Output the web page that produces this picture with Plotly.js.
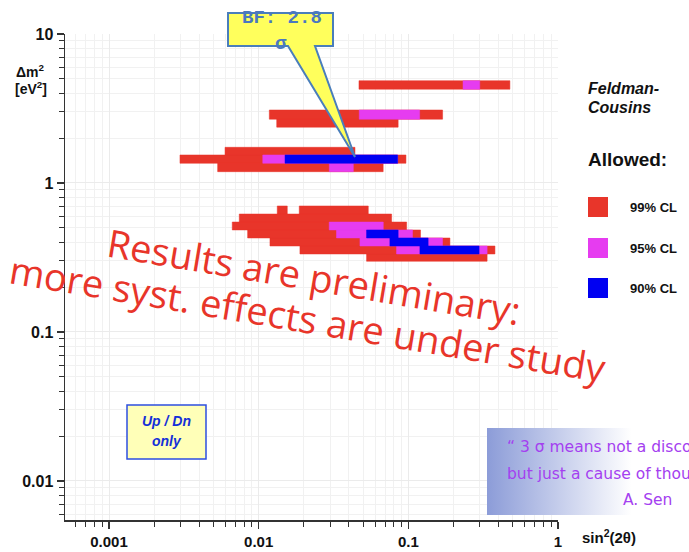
<!DOCTYPE html>
<html><head><meta charset="utf-8">
<script src="https://cdn.plot.ly/plotly-3.0.1.min.js"></script>
<style>html,body{margin:0;padding:0;background:#fff}</style>
</head><body><div id="chart" style="width:689px;height:552px"></div>
<script>
// Axis ticks
const xTickVals = [0.001, 0.01, 0.1, 1];
const xTickText = ['0.001', '0.01', '0.1', '1'];
const yTickVals = [0.01, 0.1, 1, 10];
const yTickText = ['0.01', '0.1', '1', '10'];

// Allowed regions, each row: [sin2(2θ) min, sin2(2θ) max, Δm² min, Δm² max]
const cl99 = [
  [0.0468, 0.477, 4.26, 4.86],
  [0.01178, 0.1694, 2.68, 3.09],
  [0.0132, 0.0855, 2.37, 2.68],
  [0.00596, 0.0440, 1.542, 1.736],
  [0.00298, 0.0964, 1.356, 1.542],
  [0.00532, 0.0679, 1.191, 1.356],
  [0.01331, 0.01553, 0.619, 0.701],
  [0.01867, 0.0540, 0.619, 0.701],
  [0.00742, 0.0773, 0.547, 0.619],
  [0.00666, 0.0974, 0.484, 0.547],
  [0.00844, 0.1206, 0.4275, 0.484],
  [0.0119, 0.1896, 0.3777, 0.4275],
  [0.01887, 0.379, 0.3338, 0.3777],
  [0.0526, 0.336, 0.2982, 0.3338]
];
const cl95 = [
  [0.232, 0.30, 4.26, 4.86],
  [0.047, 0.119, 2.68, 3.09],
  [0.01065, 0.0848, 1.356, 1.542],
  [0.02965, 0.0429, 1.191, 1.356],
  [0.0296, 0.0680, 0.484, 0.547],
  [0.0331, 0.1067, 0.4275, 0.484],
  [0.0475, 0.1693, 0.3777, 0.4275],
  [0.0834, 0.336, 0.3338, 0.3777]
];
const cl90 = [
  [0.0150, 0.0848, 1.356, 1.542],
  [0.0526, 0.0855, 0.4275, 0.484],
  [0.0753, 0.1356, 0.3777, 0.4275],
  [0.1195, 0.297, 0.3338, 0.3777]
];
const clNames = ['99% CL', '95% CL', '90% CL'];
const clColors = ['#E8352A', '#E63CF0', '#0000F2'];

function rects(rows) {
  const x = [], y = [];
  rows.forEach(r => {
    x.push(r[0], r[1], r[1], r[0], r[0], null);
    y.push(r[2], r[2], r[3], r[3], r[2], null);
  });
  return {x, y};
}

const traces = [cl99, cl95, cl90].map((rows, i) => {
  const p = rects(rows);
  return {
    type: 'scatter', mode: 'lines', x: p.x, y: p.y,
    fill: 'toself', fillcolor: clColors[i],
    line: {color: clColors[i], width: 0.5},
    name: clNames[i], showlegend: false, hoverinfo: 'skip'
  };
});

// pixel -> paper helpers (plot area: x 65..558, y 34..520)
const L = 65, R = 558, T = 34, B = 520;
const px = v => (v - L) / (R - L);
const py = v => (B - v) / (B - T);

const bold = {family: 'Liberation Sans, Arial, sans-serif', weight: 'bold', color: '#111'};
const quoteFont = {family: 'Comic Sans MS, DejaVu Sans, sans-serif', size: 15.5, color: '#A440F0'};
const warnFont = {family: 'Open Sans, Noto Sans, sans-serif', size: 38, color: '#E8352A'};
const calloutFont = {family: 'Liberation Mono, monospace', size: 19, weight: 'bold', color: '#4A78C0'};
const boxFont = {family: 'Liberation Sans, Arial', size: 14, weight: 'bold', color: '#1530D8'};

const annotations = [
  {x: px(30), y: py(71), text: 'Δm<sup>2</sup>', font: Object.assign({size: 14}, bold)},
  {x: px(31), y: py(88), text: '[eV<sup>2</sup>]', font: Object.assign({size: 14}, bold)},
  {x: px(580), y: py(536), xanchor: 'left', text: 'sin<sup>2</sup>(2θ)', font: Object.assign({size: 15}, bold)},
  {x: px(586), y: py(88), xanchor: 'left', text: '<i>Feldman-</i>', font: Object.assign({size: 16}, bold)},
  {x: px(586), y: py(107), xanchor: 'left', text: '<i>Cousins</i>', font: Object.assign({size: 16}, bold)},
  {x: px(586), y: py(159), xanchor: 'left', text: 'Allowed:', font: Object.assign({size: 19}, bold)},
  {x: px(628), y: py(207), xanchor: 'left', text: clNames[0], font: Object.assign({size: 13}, bold)},
  {x: px(628), y: py(248), xanchor: 'left', text: clNames[1], font: Object.assign({size: 13}, bold)},
  {x: px(628), y: py(288), xanchor: 'left', text: clNames[2], font: Object.assign({size: 13}, bold)},
  // callout text
  {x: px(282), y: py(18), text: 'BF: 2.8', font: calloutFont},
  {x: px(281), y: py(44), text: 'σ', font: calloutFont},
  // Up / Dn box text
  {x: px(166.5), y: py(421), text: '<i>Up / Dn</i>', font: boxFont},
  {x: px(166.5), y: py(441), text: '<i>only</i>', font: boxFont},
  // quote
  {x: px(505), y: py(447), xanchor: 'left', text: '“ 3 σ means not a discovery', font: quoteFont},
  {x: px(505), y: py(474), xanchor: 'left', text: 'but just a cause of thought', font: quoteFont},
  {x: px(621), y: py(500), xanchor: 'left', text: 'A. Sen', font: quoteFont},
  // preliminary warning
  {x: px(314), y: py(276), text: 'Results are preliminary:', textangle: 9.5, font: warnFont},
  {x: px(308), y: py(318), text: 'more syst. effects are under study', textangle: 9.5, font: warnFont}
].map(a => Object.assign({xref: 'paper', yref: 'paper', showarrow: false, xanchor: 'center', yanchor: 'middle'}, a));

const shapes = [
  // legend squares
  {type: 'rect', x0: px(588), x1: px(608), y0: py(217), y1: py(197), fillcolor: clColors[0], line: {width: 0}},
  {type: 'rect', x0: px(588), x1: px(608), y0: py(258), y1: py(238), fillcolor: clColors[1], line: {width: 0}},
  {type: 'rect', x0: px(588), x1: px(608), y0: py(298), y1: py(278), fillcolor: clColors[2], line: {width: 0}},
  // Up/Dn box
  {type: 'rect', x0: px(127), x1: px(206), y0: py(459), y1: py(405), fillcolor: '#FFFFB8', line: {color: '#2E4FE0', width: 1.5}},
  // callout box with pointer
  {type: 'path', path: 'M ' + px(228) + ' ' + py(13) + ' L ' + px(333) + ' ' + py(13) + ' L ' + px(333) + ' ' + py(46) +
     ' L ' + px(315) + ' ' + py(46) + ' L ' + px(355) + ' ' + py(157) + ' L ' + px(288) + ' ' + py(46) +
     ' L ' + px(228) + ' ' + py(46) + ' Z',
   fillcolor: '#FFFF5C', line: {color: '#4A7EBB', width: 2}}
].map(s => Object.assign({xref: 'paper', yref: 'paper', layer: 'above'}, s));

const gradSvg = "<svg xmlns='http://www.w3.org/2000/svg' width='200' height='100' preserveAspectRatio='none' viewBox='0 0 200 100'>" +
  "<defs><linearGradient id='g' x1='0' x2='1' y1='0' y2='0'><stop offset='0' stop-color='#8C9CD8'/><stop offset='0.62' stop-color='#FFFFFF'/></linearGradient></defs>" +
  "<rect width='200' height='100' fill='url(#g)'/></svg>";

const layout = {
  width: 689, height: 552,
  margin: {l: L, r: 689 - R, t: T, b: 552 - B, pad: 0},
  paper_bgcolor: '#fff', plot_bgcolor: '#fff',
  showlegend: false,
  xaxis: {
    type: 'log', range: [-3.294, 0], tickmode: 'array', tickvals: xTickVals, ticktext: xTickText,
    ticks: 'outside', ticklen: 7, tickwidth: 1.5, tickcolor: '#333',
    showline: true, linecolor: '#333', linewidth: 1.5,
    showgrid: true, gridcolor: '#ebebeb', gridwidth: 1, zeroline: false,
    tickfont: {family: 'Liberation Sans, Arial', size: 15, weight: 'bold', color: '#111'},
    ticklabelstandoff: 0,
    minor: {dtick: 'D1', ticks: 'outside', ticklen: 5, tickwidth: 1, tickcolor: '#333', showgrid: true, gridcolor: '#f1f1f1'},
    fixedrange: true
  },
  yaxis: {
    type: 'log', range: [-2.262, 1], tickmode: 'array', tickvals: yTickVals, ticktext: yTickText,
    ticks: 'outside', ticklen: 7, tickwidth: 1.5, tickcolor: '#333',
    showline: true, linecolor: '#333', linewidth: 1.5,
    showgrid: true, gridcolor: '#ebebeb', gridwidth: 1, zeroline: false,
    tickfont: {family: 'Liberation Sans, Arial', size: 16, weight: 'bold', color: '#111'},
    minor: {dtick: 'D1', ticks: 'outside', ticklen: 5, tickwidth: 1, tickcolor: '#333', showgrid: true, gridcolor: '#f1f1f1'},
    fixedrange: true
  },
  annotations: annotations,
  shapes: shapes,
  images: [{
    source: 'data:image/svg+xml;charset=utf-8,' + encodeURIComponent(gradSvg),
    xref: 'paper', yref: 'paper', x: px(487), y: py(428), xanchor: 'left', yanchor: 'top',
    sizex: px(720) - px(487), sizey: py(428) - py(515), sizing: 'stretch', layer: 'above'
  }]
};

Plotly.newPlot('chart', traces, layout, {displayModeBar: false, staticPlot: true});
</script>
</body></html>
